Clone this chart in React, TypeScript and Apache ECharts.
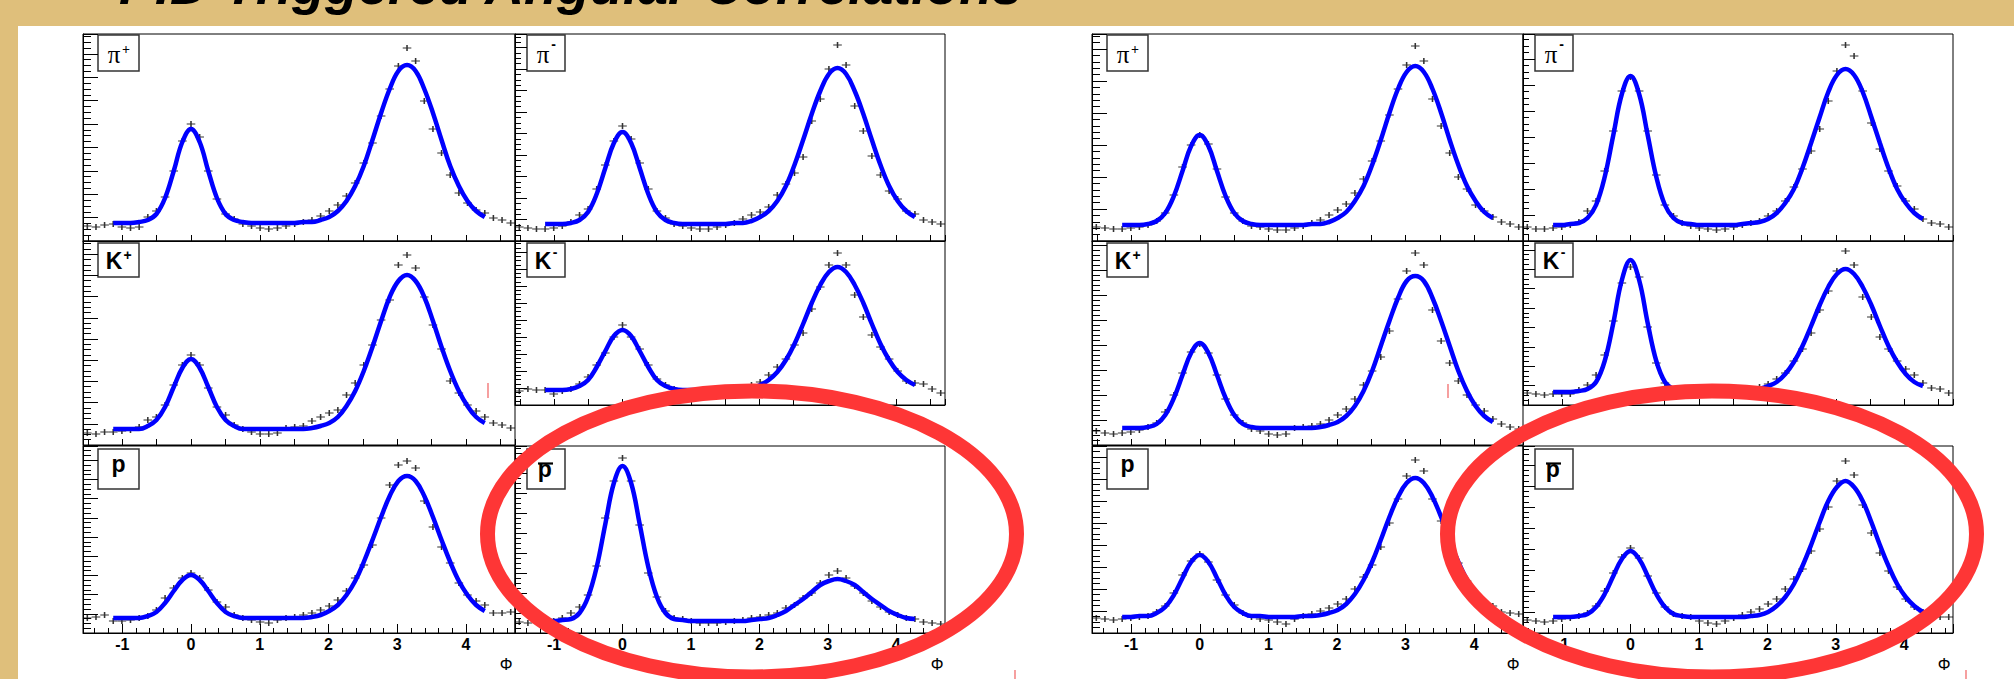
import React, { useEffect, useRef } from "react";
import * as echarts from "echarts";

// Bin centres of the azimuthal difference Phi (rad), 50 bins over [-pi/2, 3pi/2]
const PHI = [
  -1.508, -1.382, -1.257, -1.131, -1.005, -0.88, -0.754, -0.628, -0.503, -0.377,
  -0.251, -0.126, 0.0, 0.126, 0.251, 0.377, 0.503, 0.628, 0.754, 0.88,
  1.005, 1.131, 1.257, 1.382, 1.508, 1.634, 1.759, 1.885, 2.011, 2.136,
  2.262, 2.388, 2.513, 2.639, 2.765, 2.89, 3.016, 3.142, 3.267, 3.393,
  3.519, 3.644, 3.77, 3.896, 4.021, 4.147, 4.273, 4.398, 4.524, 4.65,
];
// the fit curves cover bins 3 .. 46
const FIT_FIRST_BIN = 3;
const X_TICK_LABELS = ["-1", "0", "1", "2", "3", "4"];
const TITLE = "PID Triggered Angular Correlations";
const AXIS_TITLE = "Φ";

// ---- left figure ----
const L_PIP_DATA = [15,14,16,17,14,13,14,24,30,44,70,100,117,104,70,42,27,22,17,15,13,12,13,15,17,19,21,25,30,36,45,58,78,98,125,152,175,193,180,140,112,88,66,48,38,31,28,23,21,18];
const L_PIP_FIT = [18,18,18,19,21,27,43,70,99,112,99,70,43,27,21,19,18,18,18,18,18,18,19,19,21,24,30,40,55,75,101,128,152,170,176,170,152,128,101,75,55,40,30,24];
const L_PIM_DATA = [14,13,12,12,13,15,19,26,32,52,76,100,115,102,78,52,30,23,17,15,13,12,12,14,16,18,22,26,29,34,46,57,68,84,120,142,172,196,176,135,110,85,66,50,42,30,27,21,19,17];
const L_PIM_FIT = [17,17,17,18,21,29,47,73,98,109,98,73,47,29,21,18,17,17,17,17,17,17,18,18,20,24,30,40,55,76,101,127,150,167,173,167,150,127,101,76,55,40,30,24];
const L_KP_DATA = [12,11,13,13,14,15,18,25,28,40,60,80,90,80,57,38,30,20,16,13,11,11,12,17,18,19,24,28,32,35,50,62,80,100,125,145,180,190,177,148,120,96,64,52,40,34,28,22,20,17];
const L_KP_FIT = [16,16,16,16,19,25,38,58,77,86,77,58,38,25,19,16,16,16,16,16,16,16,16,17,19,22,28,39,54,74,98,124,148,164,170,164,148,124,98,74,54,39,28,22];
const L_KM_DATA = [14,16,15,15,11,14,16,21,28,40,52,68,80,68,56,40,26,20,16,14,13,13,14,14,15,16,17,20,23,30,38,46,60,72,96,118,140,152,140,110,88,70,58,46,34,24,22,21,16,12];
const L_KM_FIT = [15,15,15,16,19,25,38,54,69,75,69,54,38,25,19,16,15,15,15,15,15,15,15,16,17,20,25,33,45,61,81,102,120,133,138,133,120,102,81,61,45,33,25,20];
const L_P_DATA = [15,16,18,12,12,13,15,17,23,35,45,55,60,55,43,31,26,18,15,13,11,10,13,15,16,18,20,23,27,33,42,55,68,88,115,148,168,172,165,132,106,86,70,50,38,32,28,20,20,21];
const L_P_FIT = [15,15,15,15,17,21,30,42,53,58,53,42,30,21,17,15,15,15,15,15,15,15,15,16,18,22,28,38,52,71,93,116,137,152,157,152,137,116,93,71,52,38,28,22];
const L_PB_DATA = [11,10,11,11,12,15,20,26,38,67,115,152,175,152,108,60,36,22,15,14,12,10,10,10,11,12,13,15,16,18,20,25,28,35,40,50,58,62,55,47,40,32,26,21,18,15,14,11,10,9];
const L_PB_FIT = [12,12,13,14,20,36,66,109,150,167,150,109,66,36,20,14,13,12,12,12,12,12,12,12,13,14,15,18,22,28,34,41,48,52,54,52,48,41,34,28,22,18,15,14];

// ---- right figure ----
const R_PIP_DATA = [14,13,12,12,13,14,16,20,28,46,74,96,106,97,72,44,28,20,15,14,12,11,11,13,15,18,21,26,31,37,48,62,80,100,126,152,176,195,180,142,115,88,64,52,36,30,24,19,17,14];
const R_PIP_FIT = [16,16,16,17,20,28,45,70,95,106,95,70,45,28,20,17,16,16,16,16,16,16,17,17,19,23,29,40,55,76,101,128,152,169,175,169,152,128,101,76,55,40,29,23];
const R_PIM_DATA = [14,12,12,13,14,16,19,30,40,70,110,150,164,150,110,66,36,25,18,15,13,12,11,12,14,16,18,20,25,30,40,54,72,90,112,140,170,196,185,150,118,92,70,55,40,32,22,18,17,14];
const R_PIM_FIT = [16,16,17,18,23,36,64,106,147,165,147,106,64,36,23,18,17,16,16,16,16,16,17,18,19,22,28,38,52,73,98,124,149,166,172,166,149,124,98,73,52,38,28,22];
const R_KP_DATA = [14,12,11,12,13,15,18,22,33,50,72,93,101,92,70,46,30,22,16,14,11,10,11,17,18,19,21,25,30,36,46,60,74,88,114,146,174,192,180,135,104,82,64,50,40,34,26,21,18,16];
const R_KP_FIT = [17,17,17,18,21,30,47,70,92,102,92,70,47,30,21,18,17,17,17,17,17,17,17,18,20,23,29,39,54,74,99,124,147,164,169,164,147,124,99,74,54,39,29,23];
const R_KM_DATA = [12,11,10,11,11,11,15,20,30,50,84,122,138,128,78,42,22,16,14,13,13,12,12,13,13,14,15,18,21,26,32,44,56,72,95,114,134,154,140,108,88,68,56,44,36,30,22,17,16,12];
const R_KM_FIT = [13,13,13,14,16,23,44,82,125,145,125,82,44,23,16,14,13,13,13,13,13,13,14,14,16,19,23,31,43,59,79,100,118,131,136,131,118,100,79,59,43,31,23,19];
const R_P_DATA = [15,14,13,14,15,16,17,21,27,40,58,72,79,71,53,38,28,20,16,14,13,11,9,14,17,19,22,25,29,34,44,56,68,86,110,134,157,173,162,134,112,90,70,52,40,30,27,21,20,19];
const R_P_FIT = [16,16,17,17,20,26,38,55,71,78,71,55,38,26,20,17,17,16,16,16,16,17,17,18,20,23,29,39,53,71,93,116,136,150,155,150,136,116,93,71,53,39,29,23];
const R_PB_DATA = [13,12,11,12,14,15,17,20,27,42,60,76,85,75,57,40,26,19,17,16,12,10,9,12,15,18,21,24,29,34,44,54,64,82,104,126,152,172,158,128,100,80,62,46,34,26,21,17,16,16];
const R_PB_FIT = [16,16,16,17,19,26,39,57,74,82,74,57,39,26,19,17,16,16,16,16,16,16,16,17,18,21,27,36,49,67,88,111,132,146,152,146,132,111,88,67,49,36,27,21];

// ---- layout (pixels) ----
const PANELS = [
  { data: L_PIP_DATA, fit: L_PIP_FIT, particle: "pi", charge: "+", frame: [83, 34, 515, 241], yTick: 23.4, yMinor: 4 },
  { data: L_PIM_DATA, fit: L_PIM_FIT, particle: "pi", charge: "-", frame: [515, 34, 945, 241], yTick: 21.5, yMinor: 4 },
  { data: L_KP_DATA, fit: L_KP_FIT, particle: "K", charge: "+", frame: [83, 241, 515, 445], yTick: 21.2, yMinor: 4 },
  { data: L_KM_DATA, fit: L_KM_FIT, particle: "K", charge: "-", frame: [515, 241, 945, 405], yTick: 17, yMinor: 4 },
  { data: L_P_DATA, fit: L_P_FIT, particle: "p", charge: "", frame: [83, 446, 515, 633], yTick: 19.2, yMinor: 4 },
  { data: L_PB_DATA, fit: L_PB_FIT, particle: "pbar", charge: "", frame: [515, 446, 945, 633], yTick: 20, yMinor: 4 },
  { data: R_PIP_DATA, fit: R_PIP_FIT, particle: "pi", charge: "+", frame: [1092, 34, 1523, 241], yTick: 32, yMinor: 5 },
  { data: R_PIM_DATA, fit: R_PIM_FIT, particle: "pi", charge: "-", frame: [1523, 34, 1953, 241], yTick: 26, yMinor: 4 },
  { data: R_KP_DATA, fit: R_KP_FIT, particle: "K", charge: "+", frame: [1092, 241, 1523, 445], yTick: 25, yMinor: 5 },
  { data: R_KM_DATA, fit: R_KM_FIT, particle: "K", charge: "-", frame: [1523, 241, 1953, 405], yTick: 19.4, yMinor: 4 },
  { data: R_P_DATA, fit: R_P_FIT, particle: "p", charge: "", frame: [1092, 446, 1523, 633], yTick: 22, yMinor: 4 },
  { data: R_PB_DATA, fit: R_PB_FIT, particle: "pbar", charge: "", frame: [1523, 446, 1953, 633], yTick: 21, yMinor: 4 },
];

const GOLD = "#dfbf7b";
const RED = "#fe3636";
const BLUE = "#0000ff";

function isFirstCol(frame: number[]) {
  return frame[0] === 83 || frame[0] === 1092;
}

function labelBox(p: any) {
  const f = p.frame;
  const first = isFirstCol(f);
  const bx = f[0] + (first ? 15 : 12);
  const bw = first ? 41 : 38;
  let by = 35, bh = 36;
  if (f[1] === 241) { by = 243; bh = 34; }
  if (f[1] === 446) { by = 449; bh = 40; }
  const children: any[] = [
    { type: "rect", shape: { x: bx, y: by, width: bw, height: bh }, style: { fill: "#fff", stroke: "#333", lineWidth: 1.5 } },
  ];
  const T = (text: string, x: number, y: number, font: string) => ({
    type: "text", x, y,
    style: { text, font, fill: "#000", align: "center", verticalAlign: "middle" },
  });
  if (p.particle === "pi") {
    children.push(T("π", bx + 16, by + 19, '25px "Liberation Serif"'));
    if (p.charge === "+") children.push(T("+", bx + 28, by + 14.5, 'bold 14px "Liberation Serif"'));
    else children.push(T("-", bx + 26.5, by + 9, 'bold 14px "Liberation Sans"'));
  } else if (p.particle === "K") {
    children.push(T("K", bx + 16, by + 18, 'bold 23px "Liberation Sans"'));
    if (p.charge === "+") children.push(T("+", bx + 29.5, by + 12, 'bold 14px "Liberation Sans"'));
    else children.push(T("-", bx + 28, by + 8.5, 'bold 14px "Liberation Sans"'));
  } else if (p.particle === "p") {
    children.push(T("p", bx + bw * 0.5, by + 15, 'bold 23px "Liberation Sans"'));
  } else {
    children.push(T("p", bx + bw * 0.47, by + 20, 'bold 23px "Liberation Sans"'));
    children.push({ type: "line", shape: { x1: bx + 11, y1: by + 14.5, x2: bx + 26, y2: by + 14.5 }, style: { stroke: "#000", lineWidth: 2.2 } });
  }
  return { type: "group", z: 20, children };
}

export default function App() {
  const ref = useRef<HTMLDivElement>(null);
  useEffect(() => {
    if (!ref.current) return;
    const chart = echarts.init(ref.current, undefined, { renderer: "svg" });

    const grid = PANELS.map((p) => ({
      left: p.frame[0], top: p.frame[1],
      width: p.frame[2] - p.frame[0], height: p.frame[3] - p.frame[1],
      show: true, borderColor: "#000", borderWidth: 1, backgroundColor: "#fff",
    }));

    const xAxis = PANELS.map((p, i) => {
      const bottom = p.frame[3] === 633;
      return {
        gridIndex: i, type: "value",
        min: -Math.PI / 2, max: 1.5 * Math.PI,
        splitNumber: bottom ? 6 : 12,
        axisLine: { show: true, onZero: false, lineStyle: { color: "#000", width: 1 } },
        axisTick: { show: true, inside: true, length: bottom ? 9 : 6, lineStyle: { color: "#000", width: 1 } },
        minorTick: { show: bottom, splitNumber: 5, length: 5, lineStyle: { color: "#000", width: 1 } },
        splitLine: { show: false },
        axisLabel: {
          show: bottom, margin: 3, color: "#000", fontSize: 16, fontWeight: "bold",
          fontFamily: "Liberation Sans",
          formatter: (v: number) => (X_TICK_LABELS.includes(String(v)) ? String(v) : ""),
          showMinLabel: true, showMaxLabel: true,
        },
      };
    });

    const yAxis = PANELS.map((p, i) => {
      const first = isFirstCol(p.frame);
      return {
        gridIndex: i, type: "value",
        min: 0, max: p.frame[3] - p.frame[1], interval: p.yTick,
        axisLine: { show: true, onZero: false, lineStyle: { color: "#000", width: 1 } },
        axisTick: { show: true, inside: true, length: first ? 15 : 12, lineStyle: { color: "#000", width: 1 } },
        minorTick: { show: true, splitNumber: p.yMinor, length: first ? 8 : 6, lineStyle: { color: "#000", width: 1 } },
        splitLine: { show: false },
        axisLabel: { show: false },
      };
    });

    const series: any[] = [];
    PANELS.forEach((p, i) => {
      series.push({
        type: "scatter", xAxisIndex: i, yAxisIndex: i, silent: true, z: 2,
        symbol: "path://M0,5L10,5M5,0L5,10", symbolSize: [8.6, 6],
        itemStyle: { color: "rgba(0,0,0,0)", borderColor: "#000", borderWidth: 1.3 },
        data: p.data.map((v, k) => [PHI[k], v]),
      });
      series.push({
        type: "line", xAxisIndex: i, yAxisIndex: i, silent: true, z: 3,
        showSymbol: false, symbol: "none", smooth: 0.4,
        lineStyle: { color: BLUE, width: 4.5 },
        data: p.fit.map((v, k) => [PHI[k + FIT_FIRST_BIN], v]),
      });
    });

    const graphics: any[] = [
      { type: "rect", z: 1, shape: { x: 0, y: 0, width: 2014, height: 26 }, style: { fill: GOLD } },
      { type: "rect", z: 1, shape: { x: 0, y: 0, width: 18, height: 679 }, style: { fill: GOLD } },
      {
        type: "text", z: 5, x: 119, y: -15,
        style: { text: TITLE, font: 'italic bold 54px "Liberation Sans"', fill: "#000", align: "left", verticalAlign: "middle" },
      },
    ];
    PANELS.forEach((p) => graphics.push(labelBox(p)));
    [506, 937, 1513, 1944].forEach((x) =>
      graphics.push({
        type: "text", z: 20, x, y: 664,
        style: { text: AXIS_TITLE, font: '16px "Liberation Sans"', fill: "#000", align: "center", verticalAlign: "middle" },
      })
    );
    // small red marks on the slide
    [
      [488, 383, 488, 398], [1448, 384, 1448, 398], [1015, 670, 1015, 679], [1966, 670, 1966, 679],
    ].forEach((s) =>
      graphics.push({ type: "line", z: 30, shape: { x1: s[0], y1: s[1], x2: s[2], y2: s[3] }, style: { stroke: "#f06060", lineWidth: 1.2 } })
    );
    // red highlight ellipses
    [752, 1712].forEach((cx) =>
      graphics.push({
        type: "ellipse", z: 100, shape: { cx, cy: 534, rx: 264.5, ry: 143 },
        style: { fill: "none", stroke: RED, lineWidth: 15 },
      })
    );

    chart.setOption({
      animation: false,
      backgroundColor: "#fff",
      grid, xAxis, yAxis, series,
      graphic: { elements: graphics },
    });
    return () => chart.dispose();
  }, []);

  return (
    <div
      ref={ref}
      style={{ position: "fixed", left: 0, top: 0, width: 2014, height: 679, background: "#fff" }}
    />
  );
}
